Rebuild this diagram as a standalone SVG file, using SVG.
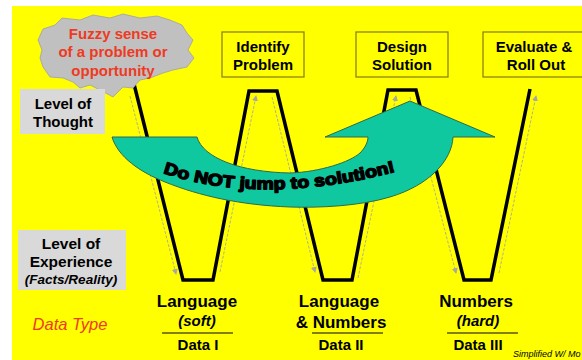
<svg xmlns="http://www.w3.org/2000/svg" width="582" height="360" viewBox="0 0 582 360">
  <defs>
    <marker id="tip" viewBox="0 0 6 6" refX="5" refY="3" markerWidth="6" markerHeight="6" orient="auto" markerUnits="userSpaceOnUse">
      <path d="M0,0 L6,3 L0,6 Z" fill="#a8a8a0"/>
    </marker>
    <path id="slogan" d="M 163,173 Q 265,207 402,170"/>
  </defs>
  <style>
    .t { font-family: "Liberation Sans", Arial, sans-serif; font-weight: bold; fill: #000; text-anchor: middle; }
    .head { font-size: 15px; }
    .col { font-size: 17px; }
    .sub { font-size: 15px; font-style: italic; }
    .red { fill: #ee3a22; }
    .box { fill: #ffff00; stroke: #8c8400; stroke-width: 1.3; }
    .side { fill: #d9d9d9; }
    .rule { stroke: #5a5500; stroke-width: 1.5; }
    .guide { fill: none; stroke: #a8a8a0; stroke-width: 0.9; stroke-dasharray: 3 1.5; marker-end: url(#tip); }
    .w { fill: none; stroke: #000; stroke-width: 3.5; stroke-linejoin: miter; }
  </style>

  <!-- page -->
  <rect width="582" height="360" fill="#ffffff"/>
  <rect x="12" y="6" width="570" height="354" fill="#ffff00"/>

  <!-- W path with its guide arrows -->
  <g id="connectors">
    <line class="guide" x1="130" y1="96" x2="176" y2="274"/>
    <line class="guide" x1="220" y1="272" x2="256" y2="96"/>
    <line class="guide" x1="272" y1="97" x2="315" y2="272"/>
    <line class="guide" x1="358" y1="278" x2="396" y2="96"/>
    <line class="guide" x1="410" y1="97" x2="456" y2="273"/>
    <line class="guide" x1="499" y1="273" x2="536" y2="96"/>
    <polyline class="w" points="134,84 183,280 213,280 249,91 277,91 323,280 352,280 388,90 416,90 464,280 491,280 530,89"/>
  </g>

  <!-- starting point -->
  <g id="fuzzy">
    <polygon fill="#c0c0c0" stroke="#a0a0a0" stroke-width="0.8" points="43,29 55,25 62,18 80,20 93,15 110,18 123,14 140,18 157,16 170,20 182,25 187,33 193,40 188,50 194,58 187,67 173,70 163,73 150,78 140,80 133,88 123,87 113,97 100,90 90,85 80,88 73,82 63,78 50,77 43,67 40,58 42,50 38,40"/>
    <text class="t head red" x="113" y="39">Fuzzy sense</text>
    <text class="t head red" x="113" y="57">of a problem or</text>
    <text class="t head red" x="113" y="76">opportunity</text>
  </g>

  <!-- stage boxes -->
  <g id="identify">
    <rect class="box" x="222" y="32" width="82" height="45"/>
    <text class="t head" x="263" y="52">Identify</text>
    <text class="t head" x="263" y="70">Problem</text>
  </g>
  <g id="design">
    <rect class="box" x="356" y="32" width="92" height="45"/>
    <text class="t head" x="402" y="52">Design</text>
    <text class="t head" x="402" y="70">Solution</text>
  </g>
  <g id="evaluate">
    <rect class="box" x="483" y="32" width="110" height="45"/>
    <text class="t head" x="534" y="52">Evaluate &amp;</text>
    <text class="t head" x="536" y="70">Roll Out</text>
  </g>

  <!-- side labels -->
  <g id="thought">
    <rect class="side" x="20" y="89" width="85" height="45"/>
    <text class="t head" x="63" y="109">Level of</text>
    <text class="t head" x="63" y="127">Thought</text>
  </g>
  <g id="experience">
    <rect class="side" x="18" y="230" width="108" height="60"/>
    <text class="t" x="71" y="249" font-size="15.5">Level of</text>
    <text class="t" x="71" y="267" font-size="15.5">Experience</text>
    <text class="t" x="71" y="284" font-size="13.5" font-style="italic">(Facts/Reality)</text>
  </g>
  <g id="datatype">
    <text x="70" y="330" font-family="'Liberation Sans', Arial, sans-serif" font-size="16.5" font-style="italic" fill="#ee3a22" text-anchor="middle">Data Type</text>
  </g>

  <!-- big warning arrow -->
  <g id="jump">
    <path fill="#10c8a0" stroke="#2e6a48" stroke-width="1" d="M112,137 L197,137 C203,158 240,172 290,173 C320,172 350,162 360,153 C365,148 368,142 368,137 L325,137 L410,101 L495,137 L453,137 C452,160 430,185 390,197 C360,206 320,208 290,207 C240,205 200,196 165,182 C140,172 118,157 112,137 Z"/>
    <text font-family="'Liberation Sans', Arial, sans-serif" font-weight="bold" font-size="16.5" fill="#000" stroke="#000" stroke-width="1.4" stroke-linejoin="round" textLength="236" lengthAdjust="spacingAndGlyphs">
      <textPath href="#slogan">Do NOT jump to solution!</textPath>
    </text>
  </g>

  <!-- data columns -->
  <g id="data1">
    <text class="t col" x="197" y="307">Language</text>
    <text class="t sub" x="197" y="326">(soft)</text>
    <line class="rule" x1="162" y1="333" x2="233" y2="333"/>
    <text class="t head" x="198" y="350">Data I</text>
  </g>
  <g id="data2">
    <text class="t col" x="339" y="307">Language</text>
    <text class="t col" x="341" y="328">&amp; Numbers</text>
    <line class="rule" x1="312" y1="333" x2="383" y2="333"/>
    <text class="t head" x="341" y="350">Data II</text>
  </g>
  <g id="data3">
    <text class="t col" x="476" y="307">Numbers</text>
    <text class="t sub" x="478" y="326">(hard)</text>
    <line class="rule" x1="447" y1="333" x2="518" y2="333"/>
    <text class="t head" x="478" y="350">Data III</text>
  </g>

  <text x="513" y="357" font-family="'Liberation Sans', Arial, sans-serif" font-size="9" font-style="italic" fill="#000">Simplified W/ Mo</text>
</svg>
